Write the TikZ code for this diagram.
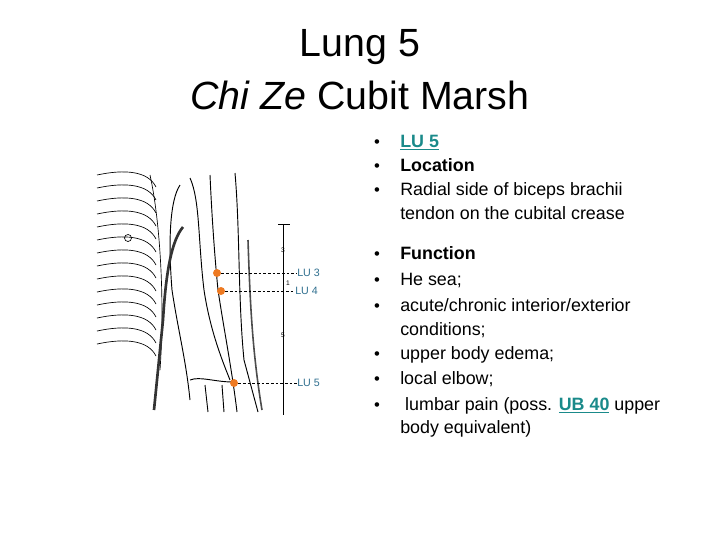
\documentclass[tikz,border=0pt]{standalone}
\usepackage{fontspec}
\setmainfont{Liberation Sans}
\usetikzlibrary{calc}
\definecolor{teal1}{HTML}{1A8A8A}
\definecolor{lublue}{HTML}{2E6E8E}
\definecolor{dotor}{HTML}{EE7A22}
\begin{document}
\begin{tikzpicture}[x=0.75pt,y=-0.75pt,
  body/.style={font=\fontsize{13.4}{16}\selectfont,anchor=base west,align=left,inner sep=0},
  bul/.style={font=\fontsize{12.5}{15}\selectfont,anchor=base,inner sep=0},
  lbl/.style={font=\fontsize{8}{9}\selectfont,text=lublue,anchor=west,inner sep=0},
  pt/.style={circle,fill=dotor,inner sep=0,minimum size=6pt},
  sk/.style={line width=0.7pt,black},
  dl/.style={dashed,line width=0.5pt,dash pattern=on 2pt off 1.5pt}]
\useasboundingbox (0,0) rectangle (720,540);
% title
\node[font=\fontsize{29.5}{34}\selectfont] (t1) at (360,47) {Lung 5};
\node[font=\fontsize{29.5}{34}\selectfont] (t2) at (360,95) {\textit{Chi Ze} Cubit Marsh};
% bullets
\foreach \y/\n in {147/b1,171/b2,195/b3,259/b4,285/b5,311/b6,359/b7,384/b8,410/b9}
  \node[bul] (\n) at (377,\y) {\textbullet};
\node[body] (i1) at (400,147) {\textcolor{teal1}{\textbf{\underline{LU 5}}}};
\node[body] (i2) at (400,171) {\textbf{Location}};
\node[body] (i3) at (400,195) {Radial side of biceps brachii};
\node[body] (i3b) at (400,219) {tendon on the cubital crease};
\node[body] (i4) at (400,259) {\textbf{Function}};
\node[body] (i5) at (400,285) {He sea;};
\node[body] (i6) at (400,311) {acute/chronic interior/exterior};
\node[body] (i6b) at (400,335) {conditions;};
\node[body] (i7) at (400,359) {upper body edema;};
\node[body] (i8) at (400,384) {local elbow;};
\node[body] (i9) at (400,410) {\ lumbar pain (poss. \textcolor{teal1}{\textbf{\underline{UB 40}}} upper};
\node[body] (i9b) at (400,433) {body equivalent)};
% ribs
\foreach \y in {175,188,201,214,227,240,253,266,279,292,305,318,331,344}
  \draw[sk,line width=0.5pt] (97,\y) .. controls (125,\y-6) and (148,\y-4) .. (156,\y+12);
\draw[sk,line width=0.5pt] (150,175) .. controls (160,220) and (165,300) .. (160,370);
\draw[sk,line width=0.5pt] (128,238) circle (3.5);
% arm contours
\draw[sk] (235,173) .. controls (240,230) and (238,300) .. (244,360) -- (258,412);
\draw[sk] (210,175) .. controls (212,220) and (215,260) .. (218,290) .. controls (224,330) and (232,370) .. (237,412);
\draw[sk] (190,178) .. controls (200,200) and (198,240) .. (204,290) .. controls (210,330) and (222,360) .. (230,380);
\draw[sk] (180,185) .. controls (170,200) and (168,240) .. (172,290) .. controls (178,330) and (186,360) .. (190,400);
\draw[line width=2pt,black!80] (183,227) .. controls (172,240) and (166,270) .. (163,320) .. controls (160,350) and (157,380) .. (154,410);
\draw[line width=1.2pt,black!70] (248,240) .. controls (250,300) and (252,350) .. (262,410);
\draw[sk] (190,380) .. controls (200,376) and (215,382) .. (233,382);
\draw[sk] (205,385) -- (208,412);
\draw[sk] (222,385) -- (224,412);
% scale
\draw[line width=0.6pt] (283,224) -- (283,415);
\draw[line width=0.6pt] (278,224) -- (290,224);
\node[font=\tiny,inner sep=0] (n3) at (283,250) {3};
\node[font=\tiny,inner sep=0] (n1) at (288,283) {1};
\node[font=\tiny,inner sep=0] (n5) at (283,335) {5};
% points
\node[pt] (p3) at (217,273) {};
\node[pt] (p4) at (221,291) {};
\node[pt] (p5) at (234,383) {};
\node[lbl] (l3) at (297,273) {LU 3};
\node[lbl] (l4) at (295,291) {LU 4};
\node[lbl] (l5) at (297,383) {LU 5};
\draw[dl] (p3) -- (l3.west);
\draw[dl] (p4) -- (l4.west);
\draw[dl] (p5) -- (l5.west);
\end{tikzpicture}
\end{document}
